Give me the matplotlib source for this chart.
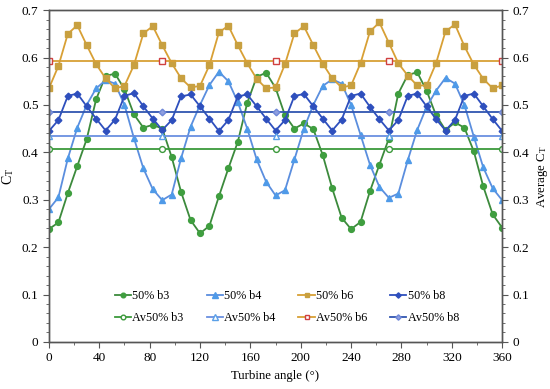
import numpy as np
import matplotlib
matplotlib.use("Agg")
import matplotlib.pyplot as plt
from matplotlib.ticker import MultipleLocator, FuncFormatter

angle = np.arange(0, 360.1, 7.5)

b3 = [0.238, 0.252, 0.314, 0.371, 0.428, 0.512, 0.561, 0.566, 0.533, 0.480, 0.452, 0.458,
      0.450, 0.390, 0.316, 0.257, 0.229, 0.245, 0.307, 0.366, 0.422, 0.504, 0.559, 0.568,
      0.536, 0.478, 0.450, 0.461, 0.449, 0.394, 0.324, 0.262, 0.238, 0.253, 0.318, 0.374,
      0.429, 0.524, 0.563, 0.569, 0.530, 0.478, 0.447, 0.463, 0.452, 0.402, 0.328, 0.269,
      0.241]
b4 = [0.280, 0.305, 0.387, 0.452, 0.500, 0.535, 0.552, 0.545, 0.500, 0.430, 0.366, 0.322,
      0.299, 0.311, 0.388, 0.454, 0.500, 0.542, 0.570, 0.550, 0.506, 0.450, 0.385, 0.338,
      0.309, 0.320, 0.385, 0.450, 0.500, 0.540, 0.554, 0.545, 0.500, 0.437, 0.374, 0.327,
      0.304, 0.313, 0.383, 0.447, 0.496, 0.530, 0.557, 0.545, 0.500, 0.433, 0.368, 0.324,
      0.299]
b6 = [0.535, 0.582, 0.650, 0.668, 0.626, 0.586, 0.556, 0.535, 0.540, 0.584, 0.651, 0.666,
      0.626, 0.588, 0.556, 0.537, 0.540, 0.584, 0.653, 0.667, 0.626, 0.588, 0.555, 0.535,
      0.537, 0.586, 0.651, 0.666, 0.626, 0.587, 0.556, 0.537, 0.541, 0.588, 0.655, 0.674,
      0.631, 0.588, 0.562, 0.541, 0.541, 0.588, 0.655, 0.670, 0.624, 0.585, 0.555, 0.535,
      0.541]
b8 = [0.445, 0.468, 0.519, 0.524, 0.497, 0.471, 0.446, 0.469, 0.519, 0.525, 0.497, 0.471,
      0.447, 0.468, 0.518, 0.522, 0.497, 0.471, 0.445, 0.468, 0.518, 0.522, 0.497, 0.471,
      0.446, 0.468, 0.519, 0.523, 0.497, 0.471, 0.446, 0.469, 0.519, 0.524, 0.496, 0.470,
      0.446, 0.468, 0.519, 0.524, 0.497, 0.470, 0.446, 0.468, 0.519, 0.524, 0.497, 0.470,
      0.445]

avg_angle = [0, 90, 180, 270, 360]
av_b3 = [0.408] * 5
av_b4 = [0.434] * 5
av_b6 = [0.592] * 5
av_b8 = [0.485] * 5

plt.rcParams['font.family'] = ['Liberation Serif', 'DejaVu Serif']
plt.rcParams['mathtext.fontset'] = 'stix'

fig = plt.figure(figsize=(5.5, 3.89), dpi=100)
ax = fig.add_axes([0.089, 0.121, 0.824, 0.853])

lw = 1.3
ms = 4.2
h_b3, = ax.plot(angle, b3, color='#3c8a3c', lw=lw, marker='o', ms=ms,
                mfc='#3f9e3f', mec='#3f9e3f', label='50% b3')
h_b4, = ax.plot(angle, b4, color='#5b8ede', lw=lw, marker='^', ms=ms + 0.6,
                mfc='#4f9ae8', mec='#4f9ae8', label='50% b4')
h_b6, = ax.plot(angle, b6, color='#d8a035', lw=lw, marker='s', ms=ms,
                mfc='#c8a040', mec='#c8a040', label='50% b6')
h_b8, = ax.plot(angle, b8, color='#2e4fbd', lw=lw, marker='D', ms=ms - 0.8,
                mfc='#2e4fbd', mec='#2e4fbd', label='50% b8')

h_a3, = ax.plot(avg_angle, av_b3, color='#3c9a3c', lw=lw, marker='o', ms=ms,
                mfc='white', mec='#3c9a3c', label='Av50% b3')
h_a4, = ax.plot(avg_angle, av_b4, color='#6a90e0', lw=lw, marker='^', ms=ms + 0.6,
                mfc='white', mec='#5aa0e8', label='Av50% b4')
h_a6, = ax.plot(avg_angle, av_b6, color='#d8a035', lw=lw, marker='s', ms=ms,
                mfc='white', mec='#d04040', label='Av50% b6')
h_a8, = ax.plot(avg_angle, av_b8, color='#3055b0', lw=lw, marker='D', ms=ms - 0.8,
                mfc='#8f9fe0', mec='#6f88d8', label='Av50% b8')

ax.set_xlim(0, 360)
ax.set_ylim(0, 0.7)
ax.xaxis.set_major_locator(MultipleLocator(40))
ax.xaxis.set_minor_locator(MultipleLocator(20))
ax.yaxis.set_major_locator(MultipleLocator(0.1))
ax.yaxis.set_minor_locator(MultipleLocator(0.02))
fmt = FuncFormatter(lambda v, p: "0" if abs(v) < 1e-9 else f"{v:.1f}")
ax.yaxis.set_major_formatter(fmt)

ax2 = ax.twinx()
ax2.set_ylim(0, 0.7)
ax2.yaxis.set_major_locator(MultipleLocator(0.1))
ax2.yaxis.set_minor_locator(MultipleLocator(0.02))
ax2.yaxis.set_major_formatter(fmt)

spine_col = '#555555'
for a in (ax, ax2):
    for s in a.spines.values():
        s.set_color(spine_col)
        s.set_linewidth(1.0)
    a.tick_params(which='both', direction='out', colors=spine_col, labelcolor='black',
                  labelsize=9.5)
    a.tick_params(which='major', length=4)
    a.tick_params(which='minor', length=2.5)

ax.set_xlabel('Turbine angle (°)', fontsize=9.3, labelpad=4)
ax.set_ylabel(r'C$_\mathregular{T}$', fontsize=10, labelpad=4)
ax2.set_ylabel(r'Average C$_\mathregular{T}$', fontsize=9.3, rotation=90, labelpad=4)

handles = [h_b3, h_a3, h_b4, h_a4, h_b6, h_a6, h_b8, h_a8]
ax.legend(handles=handles, ncol=4, loc='lower center', bbox_to_anchor=(0.525, 0.02),
          frameon=False, fontsize=8.7, handlelength=1.35, handletextpad=0.1,
          columnspacing=1.9, labelspacing=0.85, markerscale=0.8)

fig.savefig('out.png', dpi=100)
